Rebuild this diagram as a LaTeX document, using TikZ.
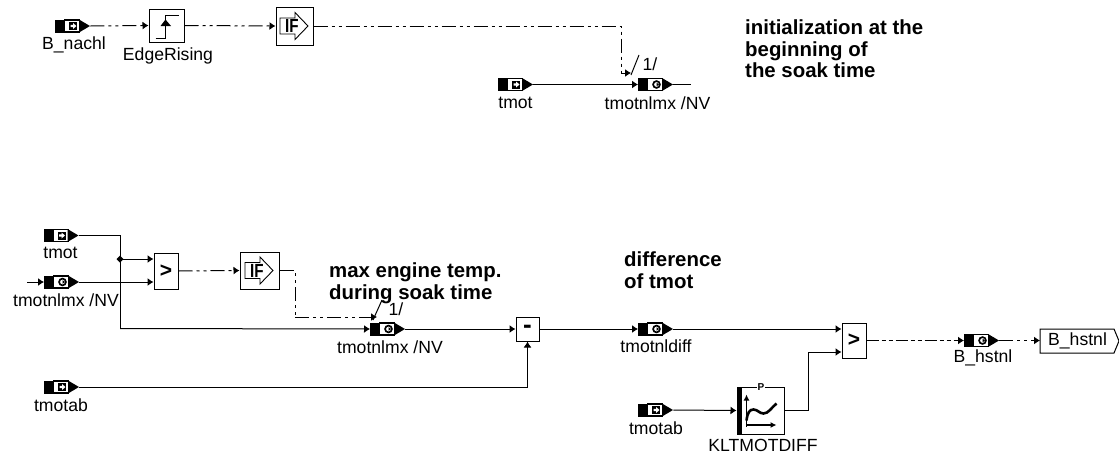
\documentclass[tikz,border=0pt]{standalone}
\usepackage{fontspec}
\setmainfont{Liberation Sans}
\usetikzlibrary{arrows.meta,shapes.geometric,calc}
\tikzset{
  x=1pt,y=-1pt,
  tipp/.tip={Latex[length=6pt,width=8pt]},
  wire/.style={line width=1pt,-tipp},
  plain/.style={line width=1pt},
  sig/.style={wire,dash pattern=on 14pt off 4pt on 3pt off 4pt on 3pt off 4pt},
  sigb/.style={plain,dash pattern=on 14pt off 4pt on 3pt off 4pt on 3pt off 4pt},
  sigc/.style={wire,dash pattern=on 12pt off 3pt on 4pt off 3pt on 4pt off 3pt},
  lab/.style={font=\fontsize{17.6pt}{20pt}\selectfont,inner sep=0pt,anchor=center},
  note/.style={font=\fontsize{20.4pt}{21.5pt}\selectfont\bfseries,inner sep=0pt,anchor=north west,align=left},
  port/.style={minimum width=35pt,minimum height=13pt,inner sep=0pt,anchor=west},
  sym/.style={font=\fontsize{21pt}{21pt}\selectfont\bfseries,inner sep=0pt},
}
% \portblock{name}{x}{y}{kind}: kind 0 = input arrow, 1 = circle
\newcommand{\portblock}[4]{%
  \node[port] (#1) at (#2,#3) {};
  \fill ($(#1.west)+(0,-6.5)$) rectangle ($(#1.west)+(10,6.5)$);
  \fill ($(#1.west)+(24,-6.5)$) -- ($(#1.west)+(35,0)$) -- ($(#1.west)+(24,6.5)$) -- cycle;
  \draw[line width=1.1pt] ($(#1.west)+(9,-6)$) -- ($(#1.west)+(25,-6)$) ($(#1.west)+(9,6)$) -- ($(#1.west)+(25,6)$);
  \ifnum#4=0
    \fill ($(#1.west)+(14,-4)$) rectangle ($(#1.west)+(22,4)$);
    \fill[white] ($(#1.west)+(15.5,-1.2)$) -- ($(#1.west)+(18,-1.2)$) -- ($(#1.west)+(18,-3)$) -- ($(#1.west)+(21.5,0)$) -- ($(#1.west)+(18,3)$) -- ($(#1.west)+(18,1.2)$) -- ($(#1.west)+(15.5,1.2)$) -- cycle;
  \else
    \draw[line width=1.7pt] ($(#1.west)+(18.5,0)$) circle (3.4pt);
    \fill ($(#1.west)+(18.5,-1.8)$) -- ($(#1.west)+(21,0)$) -- ($(#1.west)+(18.5,1.8)$) -- cycle;
  \fi
}
\newcommand{\ifsym}[1]{%
  \draw[line width=.9pt,fill=white] ($(#1.center)+(-14.5,-8)$) -- ($(#1.center)+(0.5,-8)$) -- ($(#1.center)+(0.5,-13.5)$) -- ($(#1.center)+(13.5,0)$) -- ($(#1.center)+(0.5,13.5)$) -- ($(#1.center)+(0.5,8)$) -- ($(#1.center)+(-14.5,8)$) -- cycle;
  \node[font=\fontsize{19pt}{19pt}\selectfont\bfseries,inner sep=0pt,xscale=.8] at ($(#1.center)+(-2.5,0)$) {IF};
}
\begin{document}
\begin{tikzpicture}
\useasboundingbox (0,0) rectangle (1119,458);
% --- top row
\portblock{bn}{55}{26}{0}
\node[lab] (bnl) at (74,44.5) {B\_nachl};
\node[draw,line width=1pt,minimum width=35pt,minimum height=33pt,inner sep=0pt] (er) at (166.5,25.5) {};
\draw[line width=1.8pt] ($(er.center)+(-11,13)$) -- ($(er.center)+(-1,13)$) -- ($(er.center)+(-1,-10)$) -- ($(er.center)+(12,-10)$);
\fill ($(er.center)+(-6,0.5)$) -- ($(er.center)+(-1,-6)$) -- ($(er.center)+(4.5,0.5)$) -- cycle;
\node[lab] (erl) at (168,55.5) {EdgeRising};
\node[draw,line width=1pt,minimum width=37pt,minimum height=38pt,inner sep=0pt] (if1) at (294.5,26) {};
\ifsym{if1}
\draw[sig] (bn.east) -- (er.west);
\draw[sig] (er.east) -- (if1.west);
\coordinate (c1) at (621,26);
\coordinate (c2) at (621,73);
\coordinate (c3) at (631,73);
\draw[sigb] (if1.east) -- (c1) -- (c2);
\draw[wire] (c2) -- (c3);
\portblock{tm1}{498}{84.5}{0}
\node[lab] (tm1l) at (515.5,103) {tmot};
\portblock{tx1}{638}{84.5}{1}
\node[lab] (tx1l) at (657.5,103) {tmotnlmx /NV};
\draw[wire] (tm1.east) -- (tx1.west);
\coordinate (o1) at (691,84.5);
\draw[plain] (tx1.east) -- (o1);
\coordinate (s1a) at (631,75);
\coordinate (s1b) at (639,55);
\draw[plain] (s1a) -- (s1b);
\node[lab] (one1) at (650,64) {1/};
\node[note] (n1) at (745,20) {initialization at the\\beginning of\\the soak time};
% --- bottom left
\portblock{tm2}{43.5}{235.5}{0}
\node[lab] (tm2l) at (60.5,253) {tmot};
\portblock{tx2}{44}{282}{1}
\node[lab] (tx2l) at (66,300) {tmotnlmx /NV};
\coordinate (st) at (27,282);
\draw[wire] (st) -- (tx2.west);
\node[draw,line width=1pt,minimum width=24pt,minimum height=36pt,inner sep=0pt] (gt1) at (166,271) {};
\node[sym] at (gt1.center) {>};
\node[draw,line width=1pt,minimum width=39pt,minimum height=37pt,inner sep=0pt] (if2) at (259.5,270.5) {};
\ifsym{if2}
\coordinate (j0) at (120,235.5);
\coordinate (j) at (120,259);
\coordinate (j2) at (120,328.5);
\coordinate (gi1) at (gt1.west |- j);
\coordinate (gi2) at (gt1.west |- tx2.east);
\draw[plain] (tm2.east) -- (j0) -- (j2);
\fill (j) +(-3.5,0) -- +(0,-3.5) -- +(3.5,0) -- +(0,3.5) -- cycle;
\draw[wire] (j) -- (gi1);
\draw[wire] (tx2.east) -- (gi2);
\draw[sig] (gt1.east) -- (if2.west);
\coordinate (d1) at (295,270.5);
\coordinate (d2) at (295,317);
\coordinate (d3) at (377,317);
\draw[sigb] (if2.east) -- (d1) -- (d2);
\draw[sig] (d2) -- (d3);
\portblock{tx3}{370}{329}{1}
\node[lab] (tx3l) at (390,347) {tmotnlmx /NV};
\draw[wire] (j2) -- (tx3.west);
\coordinate (s2a) at (373,320);
\coordinate (s2b) at (382,300);
\draw[plain] (s2a) -- (s2b);
\node[lab] (one2) at (396,309) {1/};
\node[note] (n2) at (329,263) {max engine temp.\\during soak time};
\node[draw,line width=1pt,minimum width=23pt,minimum height=24pt,inner sep=0pt] (mi) at (527.5,329) {};
\node[font=\fontsize{26pt}{26pt}\selectfont\bfseries,inner sep=0pt] at (mi.center) {-};
\draw[wire] (tx3.east) -- (mi.west);
\portblock{ta1}{44}{387}{0}
\node[lab] (ta1l) at (61,405) {tmotab};
\coordinate (m1) at (mi.south |- ta1.east);
\draw[wire] (ta1.east) -- (m1) -- (mi.south);
% --- bottom right
\portblock{td}{638}{329}{1}
\node[lab] (tdl) at (656,346.5) {tmotnldiff};
\draw[wire] (mi.east) -- (td.west);
\node[note] (n3) at (624,252) {difference\\of tmot};
\node[draw,line width=1pt,minimum width=24pt,minimum height=35pt,inner sep=0pt] (gt2) at (854,340.5) {};
\node[sym] at (gt2.center) {>};
\coordinate (gi3) at (gt2.west |- td.east);
\draw[wire] (td.east) -- (gi3);
\portblock{ta2}{638}{410}{0}
\node[lab] (ta2l) at (656,428) {tmotab};
\node[draw,line width=1pt,minimum width=47pt,minimum height=47pt,inner sep=0pt] (kl) at (760.5,410.5) {};
\fill (kl.north west) rectangle ($(kl.south west)+(5,0)$);
\draw[line width=1.5pt,-{Latex[length=6pt,width=6pt]}] ($(kl.center)+(-14,16)$) -- ($(kl.center)+(-14,-16)$);
\draw[line width=1.5pt,-{Latex[length=6pt,width=6pt]}] ($(kl.center)+(-14,14.5)$) -- ($(kl.center)+(16,14.5)$);
\draw[line width=2.6pt] ($(kl.center)+(-14,10)$) .. controls ($(kl.center)+(-13,2)$) and ($(kl.center)+(-11,-1)$) .. ($(kl.center)+(-7,-1)$) .. controls ($(kl.center)+(-3,-1)$) and ($(kl.center)+(-1,3)$) .. ($(kl.center)+(3,3)$) .. controls ($(kl.center)+(8,3)$) and ($(kl.center)+(11,-3)$) .. ($(kl.center)+(16,-7)$);
\fill[white] ($(kl.north)+(-3.5,-2)$) rectangle ($(kl.north)+(4.5,2)$);
\node[font=\fontsize{10pt}{10pt}\selectfont\bfseries,inner sep=0pt] (klp) at ($(kl.north)+(0.5,0.5)$) {P};
\node[lab] (kll) at (763,445) {KLTMOTDIFF};
\draw[wire] (ta2.east) -- (kl.west);
\coordinate (k1) at (808,410);
\coordinate (k2) at (808,352);
\coordinate (k3) at (gt2.west |- k2);
\coordinate (k0) at (kl.east |- k1);
\draw[wire] (k0) -- (k1) -- (k2) -- (k3);
\portblock{bh}{964}{340.5}{1}
\node[lab] (bhl) at (983,358) {B\_hstnl};
\draw[sigc] (gt2.east) -- (bh.west);
\coordinate (bx) at (1040,340.5);
\draw[sig] (bh.east) -- (bx);
\node[lab,anchor=west] (bxt) at (1048,341) {B\_hstnl};
\draw[line width=1pt] (1040,329) -- (1114,329) -- (1119,341) -- (1114,353) -- (1040,353) -- cycle;
\end{tikzpicture}
\end{document}
